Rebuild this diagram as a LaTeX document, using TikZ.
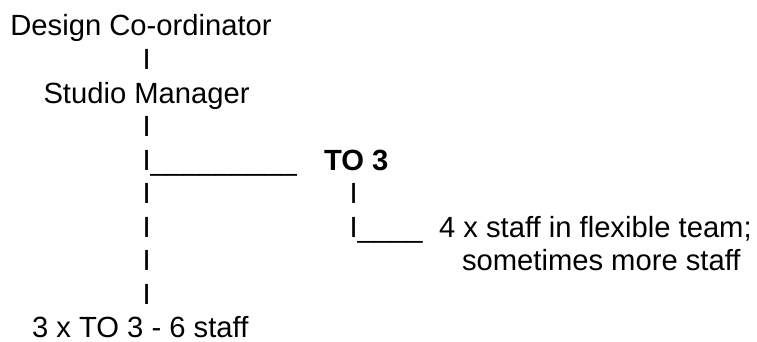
\documentclass[tikz,border=0pt]{standalone}
\usepackage{fontspec}
\setmainfont{Liberation Sans}
\begin{document}
\begin{tikzpicture}[x=1pt,y=-1pt,
  txt/.style={anchor=base west,inner sep=0pt,outer sep=0pt,font=\fontsize{29.2}{34}\selectfont},
  btxt/.style={txt,font=\fontsize{29.2}{34}\selectfont\bfseries}]
\useasboundingbox (0,0) rectangle (757,342);
\def\ls{33.55}
\node[txt] (dc) at (10.4,36) {Design Co-ordinator};
\node[txt] (b1) at (142.5,36+\ls) {I};
\node[txt] (sm) at (43.5,36+2*\ls) {Studio Manager};
\node[txt] (b2) at (142.5,36+3*\ls) {I};
\node[txt] (b3) at (142.5,36+4*\ls) {I\_\_\_\_\_\_\_\_\_};
\node[btxt] (to3) at (324,36+4*\ls) {TO 3};
\node[txt] (b4) at (142.5,36+5*\ls) {I};
\node[txt] (c1) at (349.5,36+5*\ls) {I};
\node[txt] (b5) at (142.5,36+6*\ls) {I};
\node[txt] (c2) at (349.5,36+6*\ls) {I\_\_\_\_};
\node[txt] (ft1) at (439,36+6*\ls) {4 x staff in flexible team;};
\node[txt] (b6) at (142.5,36+7*\ls) {I};
\node[txt] (ft2) at (462,36+7*\ls) {sometimes more staff};
\node[txt] (b7) at (142.5,36+8*\ls) {I};
\node[txt,text depth=0pt] (ts) at (32,36+9*\ls) {3 x TO 3 - 6 staff};
\end{tikzpicture}
\end{document}
